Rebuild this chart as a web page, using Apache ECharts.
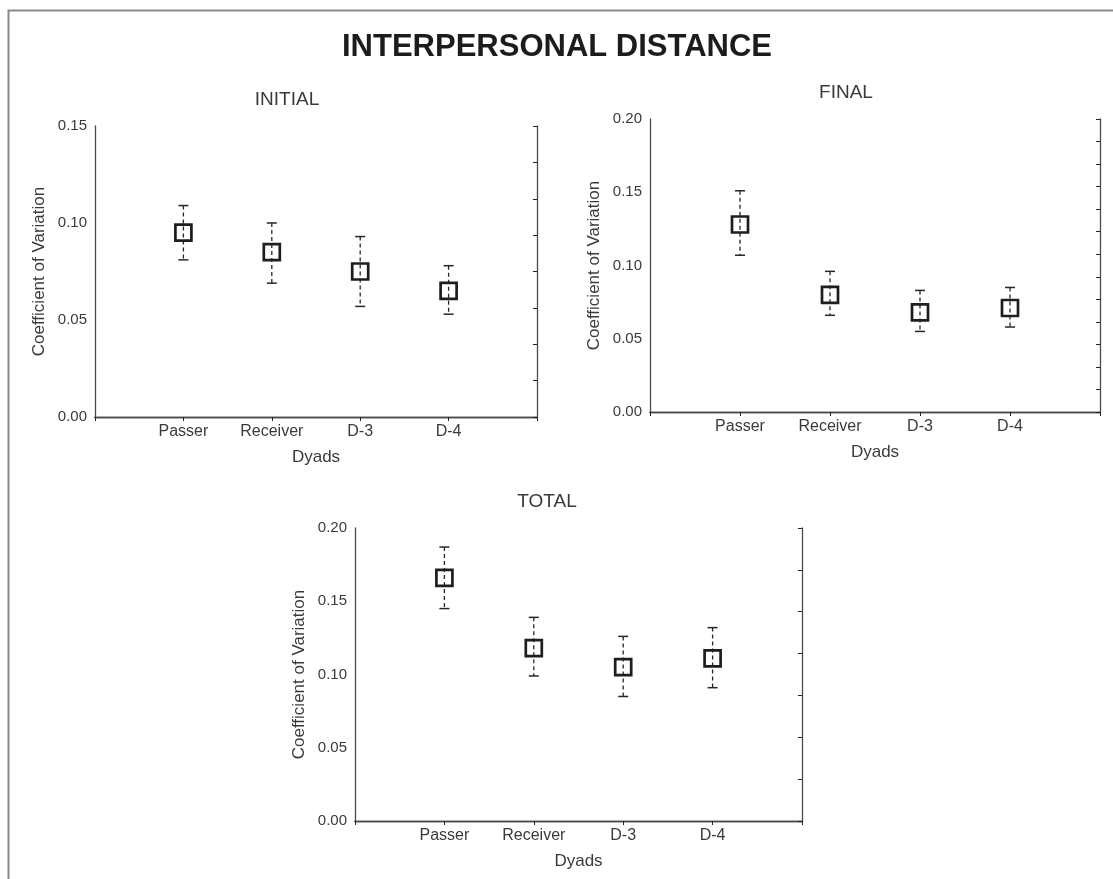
<!DOCTYPE html>
<html>
<head>
<meta charset="utf-8">
<script src="https://cdn.jsdelivr.net/npm/echarts@6/dist/echarts.min.js"></script>
<style>
html,body{margin:0;padding:0;background:#fff;}
#chart{width:1113px;height:879px;}
</style>
</head>
<body>
<div id="chart"></div>
<script>
// ---- data ----
const mainTitle = 'INTERPERSONAL DISTANCE';
const panelTitles = ['INITIAL', 'FINAL', 'TOTAL'];
const categories = ['Passer', 'Receiver', 'D-3', 'D-4'];
const xName = 'Dyads';
const yName = 'Coefficient of Variation';

const initialMean = [0.095, 0.085, 0.075, 0.065];
const initialLow  = [0.081, 0.069, 0.057, 0.053];
const initialHigh = [0.109, 0.100, 0.093, 0.078];

const finalMean = [0.128, 0.080, 0.068, 0.071];
const finalLow  = [0.107, 0.066, 0.055, 0.058];
const finalHigh = [0.151, 0.096, 0.083, 0.085];

const totalMean = [0.166, 0.118, 0.105, 0.111];
const totalLow  = [0.145, 0.099, 0.085, 0.091];
const totalHigh = [0.187, 0.139, 0.126, 0.132];

const yMax = [0.15, 0.20, 0.20];
const yInterval = 0.05;
const rightTickCounts = [8, 13, 7];

// ---- layout / style ----
const FONT = 'Liberation Sans, Arial, sans-serif';
const TXT = '#3a3a3a';
const AX = '#4a4a4a';
const grids = [
  {left: 95, top: 126, width: 442, height: 291},
  {left: 650, top: 119, width: 450, height: 293},
  {left: 355, top: 528, width: 447, height: 293}
];
const subtitlePos = [[287, 100], [846, 93], [547, 502]];

const slots = [''].concat(categories, [' ']);
const means = [initialMean, finalMean, totalMean];
const lows = [initialLow, finalLow, totalLow];
const highs = [initialHigh, finalHigh, totalHigh];

function renderItem(params, api) {
  const xi = api.value(0);
  const pm = api.coord([xi, api.value(1)]);
  const pl = api.coord([xi, api.value(2)]);
  const ph = api.coord([xi, api.value(3)]);
  const s = 16, cap = 5;
  const col = '#262626';
  return {
    type: 'group',
    children: [
      {type: 'line', shape: {x1: pm[0], y1: ph[1], x2: pm[0], y2: pl[1]},
       style: {stroke: col, lineWidth: 1.3, lineDash: [4, 3]}},
      {type: 'line', shape: {x1: pm[0] - cap, y1: ph[1], x2: pm[0] + cap, y2: ph[1]},
       style: {stroke: col, lineWidth: 1.5}},
      {type: 'line', shape: {x1: pm[0] - cap, y1: pl[1], x2: pm[0] + cap, y2: pl[1]},
       style: {stroke: col, lineWidth: 1.5}},
      {type: 'rect', shape: {x: pm[0] - s / 2, y: pm[1] - s / 2, width: s, height: s},
       style: {fill: 'none', stroke: '#1e1e1e', lineWidth: 2.7}}
    ]
  };
}

const xAxes = [], yAxes = [], series = [], graphics = [];
grids.forEach((g, k) => {
  const axLine = {show: true, lineStyle: {color: AX, width: 1.3}};
  xAxes.push({
    type: 'category', gridIndex: k, data: slots, boundaryGap: false, position: 'bottom',
    axisLine: axLine, axisTick: {show: false},
    axisLabel: {interval: 0, fontSize: 16, color: TXT, fontFamily: FONT, margin: 7},
    name: xName, nameLocation: 'middle', nameGap: 32,
    nameTextStyle: {fontSize: 17, color: TXT, fontFamily: FONT},
    splitLine: {show: false}
  });
  xAxes.push({
    type: 'category', gridIndex: k, data: slots, boundaryGap: false, position: 'top',
    axisLine: axLine, axisTick: {show: true, inside: true, length: 4, interval: 0, lineStyle: {color: '#222'}},
    axisLabel: {show: false}, splitLine: {show: false}
  });
  yAxes.push({
    type: 'value', gridIndex: k, min: 0, max: yMax[k], interval: yInterval, position: 'left',
    axisLine: axLine, axisTick: {show: false},
    axisLabel: {fontSize: 15, color: TXT, fontFamily: FONT, margin: 8, formatter: v => v.toFixed(2)},
    name: yName, nameLocation: 'middle', nameRotate: 90, nameGap: 47,
    nameTextStyle: {fontSize: 17, color: TXT, fontFamily: FONT},
    splitLine: {show: false}
  });
  yAxes.push({
    type: 'value', gridIndex: k, min: 0, max: rightTickCounts[k], interval: 1, position: 'right',
    axisLine: axLine, axisTick: {show: true, inside: true, length: 4, lineStyle: {color: '#222'}},
    axisLabel: {show: false}, splitLine: {show: false}
  });
  series.push({
    type: 'custom', xAxisIndex: 2 * k, yAxisIndex: 2 * k, renderItem: renderItem,
    encode: {x: 0, y: [1, 2, 3]},
    data: categories.map((c, i) => [c, means[k][i], lows[k][i], highs[k][i]]),
    silent: true, animation: false, clip: false
  });
  graphics.push({
    type: 'text', x: subtitlePos[k][0], y: subtitlePos[k][1],
    style: {text: panelTitles[k], fill: TXT, font: '19px ' + FONT, textAlign: 'center', textVerticalAlign: 'middle'}
  });
});

graphics.push({
  type: 'rect', shape: {x: 8.5, y: 10.5, width: 1200, height: 1000},
  style: {fill: 'none', stroke: '#8a8a8a', lineWidth: 2}, z: -1
});
graphics.push({
  type: 'text', x: 557, y: 47,
  style: {text: mainTitle, fill: '#1c1c1c', font: 'bold 31px ' + FONT, textAlign: 'center', textVerticalAlign: 'middle'}
});

const chart = echarts.init(document.getElementById('chart'), null, {renderer: 'canvas'});
chart.setOption({
  animation: false,
  backgroundColor: '#ffffff',
  grid: grids,
  xAxis: xAxes,
  yAxis: yAxes,
  series: series,
  graphic: graphics
});
</script>
</body>
</html>
